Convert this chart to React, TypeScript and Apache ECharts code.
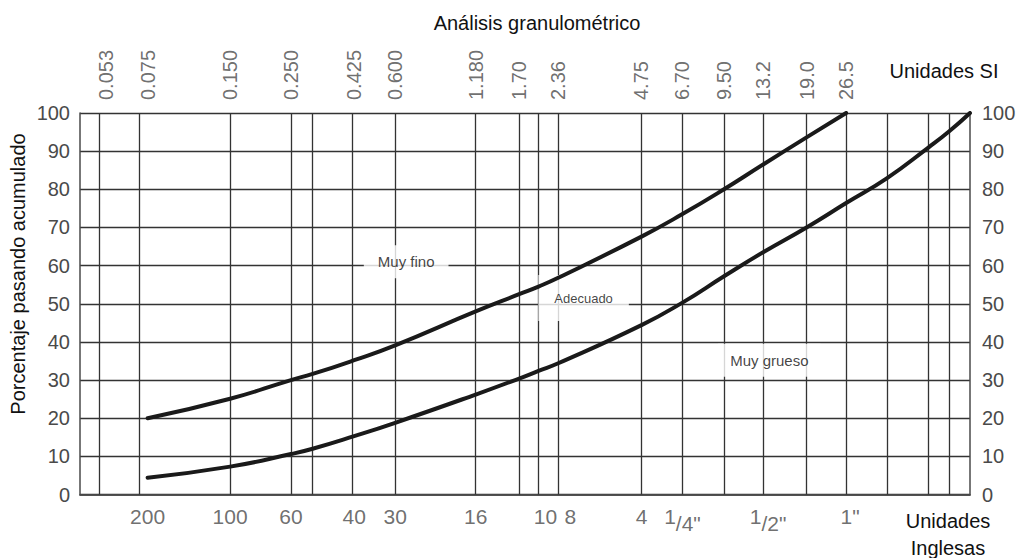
import React, { useEffect, useRef } from 'react';
import * as echarts from 'echarts';

// Sieve openings (mm) where the vertical grid lines are drawn
const sieveLinesMm = [0.053, 0.075, 0.15, 0.25, 0.3, 0.425, 0.6, 1.18, 1.7, 2.0, 2.36, 4.75, 6.7, 9.5, 13.2, 19.0, 26.5, 37.5, 53, 63];
// Top (SI) labels
const siLabels = ['0.053', '0.075', '0.150', '0.250', '0.425', '0.600', '1.180', '1.70', '2.36', '4.75', '6.70', '9.50', '13.2', '19.0', '26.5'];
const siLabelSizes = [0.053, 0.075, 0.15, 0.25, 0.425, 0.6, 1.18, 1.7, 2.36, 4.75, 6.7, 9.5, 13.2, 19.0, 26.5];
// Bottom (US) labels
const usLabels = ['200', '100', '60', '40', '30', '16', '10', '8', '4', '{a|1}{b|/4"}', '{a|1}{b|/2"}', '1"'];
const usLabelSizes = [0.075, 0.15, 0.25, 0.425, 0.6, 1.18, 2.0, 2.36, 4.75, 6.7, 13.2, 26.5];

// Upper limit curve
const upperSize = [0.075, 0.15, 0.25, 0.3, 0.425, 0.6, 1.18, 1.7, 2.0, 2.36, 4.75, 6.7, 9.5, 13.2, 19.0, 26.5];
const upperPass = [20, 25.1, 30, 31.6, 35.2, 39.1, 48, 52.5, 54.5, 56.8, 67.6, 73.5, 80, 86.5, 93.6, 100];
// Lower limit curve
const lowerSize = [0.075, 0.15, 0.25, 0.3, 0.425, 0.6, 1.18, 1.7, 2.0, 2.36, 4.75, 6.7, 9.5, 13.2, 19.0, 26.5, 37.5, 53, 63, 75];
const lowerPass = [4.4, 7.3, 10.6, 12, 15.3, 18.8, 26.2, 30.4, 32.4, 34.4, 44.4, 50.3, 57.2, 63.5, 70, 76.4, 83, 91, 95.2, 100];

// Zone labels
const zoneNames = ['Muy fino', 'Adecuado', 'Muy grueso'];
const zoneSizes = [0.658, 2.92, 13.9];
const zonePass = [61, 51.5, 35.2];

const X_MIN = 0.0425;
const X_MAX = 75;

const FONT = 'Liberation Sans, Arial, Helvetica, sans-serif';
const GRID_COLOR = '#333333';
const LABEL_COLOR = '#4a4a4a';

export default function App() {
  const ref = useRef<HTMLDivElement>(null);

  useEffect(() => {
    if (!ref.current) return;
    const chart = echarts.init(ref.current, undefined, { renderer: 'svg' });

    const xCommon = {
      type: 'log' as const,
      logBase: 10,
      min: X_MIN,
      max: X_MAX,
      axisTick: { show: false },
      axisLabel: { show: false },
      splitLine: { show: false },
      axisLine: { show: true, lineStyle: { color: LABEL_COLOR, width: 1.5 } },
    };
    const yCommon = {
      type: 'value' as const,
      min: 0,
      max: 100,
      interval: 10,
      axisTick: { show: false },
      axisLine: { show: true, lineStyle: { color: LABEL_COLOR, width: 1.5 } },
    };

    const usOffsets: Record<string, number[]> = { '10': [7, 0], '8': [12, 0], '{a|1}{b|/2"}': [5, 0], '1"': [4, 0] };
    const zonePadding: Record<string, number[]> = {
      'Muy fino': [9, 14, 9, 14],
      'Adecuado': [11, 16, 22, 16],
      'Muy grueso': [5, 12, 13, 12],
    };
    const zoneFont: Record<string, number> = { 'Muy fino': 15, 'Adecuado': 13, 'Muy grueso': 15 };

    chart.setOption({
      animation: false,
      backgroundColor: '#ffffff',
      textStyle: { fontFamily: FONT },
      grid: { left: 80, right: 49, top: 113, bottom: 63.5, containLabel: false },
      xAxis: [
        { ...xCommon, position: 'bottom' },
        { ...xCommon, position: 'top' },
      ],
      yAxis: [
        {
          ...yCommon,
          position: 'left',
          splitLine: { show: true, lineStyle: { color: GRID_COLOR, width: 1.3 } },
          axisLabel: { color: LABEL_COLOR, fontSize: 20, margin: 10, fontFamily: FONT },
        },
        {
          ...yCommon,
          position: 'right',
          splitLine: { show: false },
          axisLabel: { color: LABEL_COLOR, fontSize: 20, margin: 12, fontFamily: FONT },
        },
      ],
      graphic: [
        {
          type: 'text',
          x: 537,
          y: 23,
          style: { text: 'Análisis granulométrico', font: `20px ${FONT}`, fill: '#111', align: 'center', verticalAlign: 'middle' },
        },
        {
          type: 'text',
          x: 944,
          y: 71,
          style: { text: 'Unidades SI', font: `20px ${FONT}`, fill: '#111', align: 'center', verticalAlign: 'middle' },
        },
        {
          type: 'text',
          x: 948,
          y: 534,
          style: { text: 'Unidades\nInglesas', font: `20px ${FONT}`, fill: '#111', align: 'center', verticalAlign: 'middle', lineHeight: 27 },
        },
        {
          type: 'text',
          x: 18,
          y: 274,
          rotation: Math.PI / 2,
          style: { text: 'Porcentaje pasando acumulado', font: `20px ${FONT}`, fill: '#111', align: 'center', verticalAlign: 'middle' },
        },
      ],
      series: [
        {
          name: 'grid-lines',
          type: 'scatter',
          xAxisIndex: 0,
          yAxisIndex: 0,
          z: 1,
          silent: true,
          symbolSize: 0,
          data: usLabelSizes.map((s, i) => ({
            value: [s, 0],
            name: usLabels[i],
            label: usOffsets[usLabels[i]] ? { offset: usOffsets[usLabels[i]] } : undefined,
          })),
          label: {
            show: true,
            position: 'bottom',
            distance: 11,
            formatter: (p: any) => p.name,
            color: LABEL_COLOR,
            fontSize: 21,
            fontFamily: FONT,
            rich: {
              a: { fontSize: 21, color: LABEL_COLOR, lineHeight: 14, verticalAlign: 'top', fontFamily: FONT },
              b: { fontSize: 21, color: LABEL_COLOR, lineHeight: 28, verticalAlign: 'bottom', fontFamily: FONT },
            },
          },
          markLine: {
            silent: true,
            z: 1,
            symbol: 'none',
            label: { show: false },
            lineStyle: { color: GRID_COLOR, width: 1.3, type: 'solid' },
            data: sieveLinesMm.map((v) => ({ xAxis: v })),
          },
        },
        {
          name: 'si-labels',
          type: 'scatter',
          xAxisIndex: 1,
          yAxisIndex: 0,
          z: 1,
          silent: true,
          symbolSize: 0,
          data: siLabelSizes.map((s, i) => ({ value: [s, 100], name: siLabels[i] })),
          label: {
            show: true,
            position: 'top',
            distance: 13,
            rotate: 90,
            align: 'left',
            verticalAlign: 'middle',
            formatter: (p: any) => p.name,
            color: LABEL_COLOR,
            fontSize: 20,
            fontFamily: FONT,
          },
        },
        {
          name: 'zones',
          type: 'scatter',
          xAxisIndex: 0,
          yAxisIndex: 0,
          z: 3,
          silent: true,
          symbolSize: 0,
          data: zoneSizes.map((s, i) => ({
            value: [s, zonePass[i]],
            name: zoneNames[i],
            label: { padding: zonePadding[zoneNames[i]], fontSize: zoneFont[zoneNames[i]] },
          })),
          label: {
            show: true,
            position: 'inside',
            formatter: (p: any) => p.name,
            color: '#111',
            fontSize: 15,
            fontFamily: FONT,
            backgroundColor: '#ffffff',
          },
        },
        {
          name: 'Límite superior',
          type: 'line',
          xAxisIndex: 0,
          yAxisIndex: 0,
          z: 5,
          smooth: 0.5,
          symbol: 'none',
          lineStyle: { color: '#1a1a1a', width: 4, cap: 'round' },
          data: upperSize.map((s, i) => [s, upperPass[i]]),
        },
        {
          name: 'Límite inferior',
          type: 'line',
          xAxisIndex: 0,
          yAxisIndex: 0,
          z: 5,
          smooth: 0.5,
          symbol: 'none',
          lineStyle: { color: '#1a1a1a', width: 4, cap: 'round' },
          data: lowerSize.map((s, i) => [s, lowerPass[i]]),
        },
      ],
    });

    return () => {
      chart.dispose();
    };
  }, []);

  return (
    <div
      ref={ref}
      style={{ position: 'fixed', left: 0, top: 0, width: 1019, height: 558, background: '#fff' }}
    />
  );
}
